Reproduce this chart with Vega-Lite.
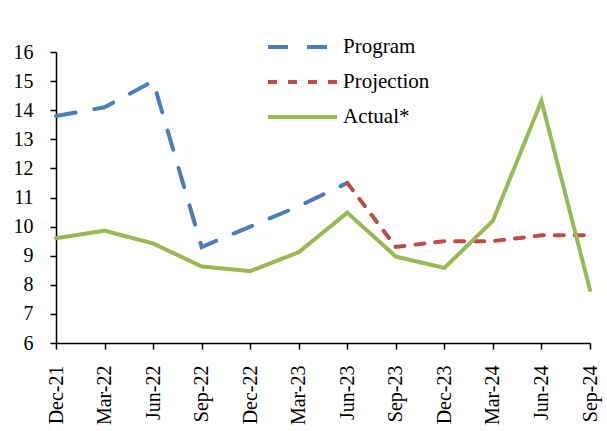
{
  "$schema": "https://vega.github.io/schema/vega-lite/v6.json",
  "width": 534,
  "height": 291,
  "autosize": {"type": "none"},
  "padding": {"left": 56, "top": 52, "right": 17, "bottom": 88},
  "background": "white",
  "config": {
    "view": {"stroke": null},
    "font": "Liberation Serif"
  },
  "data": {
    "values": [
      {"date": "Dec-21", "series": "Program", "value": 13.8},
      {"date": "Mar-22", "series": "Program", "value": 14.1},
      {"date": "Jun-22", "series": "Program", "value": 15.0},
      {"date": "Sep-22", "series": "Program", "value": 9.3},
      {"date": "Dec-22", "series": "Program", "value": 10.0},
      {"date": "Mar-23", "series": "Program", "value": 10.7},
      {"date": "Jun-23", "series": "Program", "value": 11.5},
      {"date": "Jun-23", "series": "Projection", "value": 11.5},
      {"date": "Sep-23", "series": "Projection", "value": 9.3},
      {"date": "Dec-23", "series": "Projection", "value": 9.5},
      {"date": "Mar-24", "series": "Projection", "value": 9.5},
      {"date": "Jun-24", "series": "Projection", "value": 9.7},
      {"date": "Sep-24", "series": "Projection", "value": 9.7},
      {"date": "Dec-21", "series": "Actual*", "value": 9.6},
      {"date": "Mar-22", "series": "Actual*", "value": 9.86},
      {"date": "Jun-22", "series": "Actual*", "value": 9.42},
      {"date": "Sep-22", "series": "Actual*", "value": 8.63},
      {"date": "Dec-22", "series": "Actual*", "value": 8.47},
      {"date": "Mar-23", "series": "Actual*", "value": 9.12},
      {"date": "Jun-23", "series": "Actual*", "value": 10.48},
      {"date": "Sep-23", "series": "Actual*", "value": 8.97},
      {"date": "Dec-23", "series": "Actual*", "value": 8.58},
      {"date": "Mar-24", "series": "Actual*", "value": 10.2},
      {"date": "Jun-24", "series": "Actual*", "value": 14.32},
      {"date": "Sep-24", "series": "Actual*", "value": 7.82}
    ]
  },
  "mark": {"type": "line", "strokeWidth": 4, "strokeCap": "round", "strokeJoin": "miter"},
  "encoding": {
    "x": {
      "field": "date",
      "type": "ordinal",
      "sort": ["Dec-21","Mar-22","Jun-22","Sep-22","Dec-22","Mar-23","Jun-23","Sep-23","Dec-23","Mar-24","Jun-24","Sep-24"],
      "scale": {"type": "point", "padding": 0},
      "title": null,
      "axis": {
        "labelAngle": -90,
        "labelFontSize": 20,
        "labelColor": "black",
        "labelPadding": 16,
        "domainColor": "black",
        "domainWidth": 1.5,
        "tickColor": "black",
        "tickWidth": 1.5,
        "tickSize": 6,
        "grid": false
      }
    },
    "y": {
      "field": "value",
      "type": "quantitative",
      "scale": {"domain": [6, 16], "nice": false, "zero": false},
      "title": null,
      "axis": {
        "values": [6,7,8,9,10,11,12,13,14,15,16],
        "labelFontSize": 20,
        "labelColor": "black",
        "labelPadding": 17,
        "domainColor": "black",
        "domainWidth": 1.5,
        "tickColor": "black",
        "tickWidth": 1.5,
        "tickSize": 6,
        "grid": false
      }
    },
    "color": {
      "field": "series",
      "type": "nominal",
      "scale": {"domain": ["Program", "Projection", "Actual*"], "range": ["#4a7ebb", "#be4b48", "#98b954"]},
      "legend": {
        "title": null,
        "orient": "none",
        "legendX": 210,
        "legendY": -20,
        "labelFontSize": 21,
        "labelColor": "black",
        "symbolType": "stroke",
        "symbolSize": 4761,
        "symbolStrokeWidth": 4,
        "clipHeight": 30,
        "rowPadding": 5,
        "labelOffset": 4
      }
    },
    "strokeDash": {
      "field": "series",
      "type": "nominal",
      "scale": {"domain": ["Program", "Projection", "Actual*"], "range": [[20, 19], [9, 11], [1, 0]]},
      "legend": null
    },
    "order": {"field": "series"}
  }
}
